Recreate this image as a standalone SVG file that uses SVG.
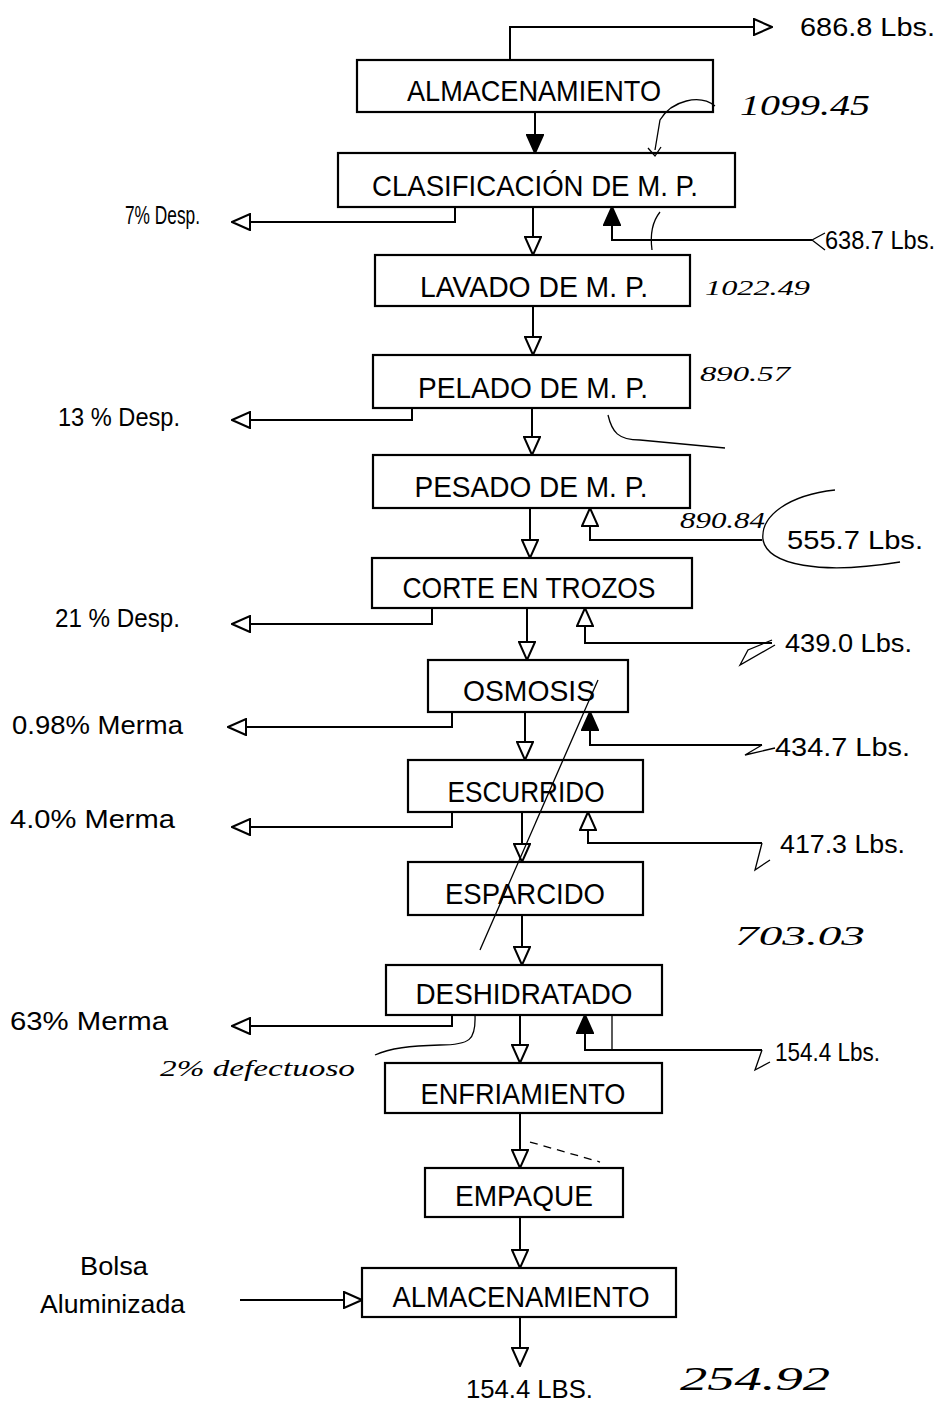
<svg xmlns="http://www.w3.org/2000/svg" width="944" height="1408" viewBox="0 0 944 1408">
<style>
.box{fill:#fff;stroke:#000;stroke-width:2.2}
.lbl{font-family:"Liberation Sans",Arial,sans-serif;font-size:30px;fill:#000;text-anchor:middle}
.side{font-family:"Liberation Sans",Arial,sans-serif;font-size:25px;fill:#000}
.hand{font-family:"Liberation Serif",serif;font-style:italic;fill:#000}
.ln{fill:none;stroke:#000;stroke-width:2}
.hl{fill:none;stroke:#000;stroke-width:1.3}
</style>
<defs>
<marker id="ah" viewBox="0 0 20 18" refX="19" refY="9" markerWidth="20" markerHeight="18" markerUnits="userSpaceOnUse" orient="auto">
<path d="M1,1 L19,9 L1,17 Z" fill="#fff" stroke="#000" stroke-width="2"/>
</marker>
<marker id="af" viewBox="0 0 20 18" refX="19" refY="9" markerWidth="20" markerHeight="18" markerUnits="userSpaceOnUse" orient="auto">
<path d="M1,1 L19,9 L1,17 Z" fill="#000" stroke="#000" stroke-width="2"/>
</marker>
</defs>
<rect width="944" height="1408" fill="#fff"/>

<g id="connectors">
<line class="ln" x1="535" y1="112" x2="535" y2="153" marker-end="url(#af)"/>
<line class="ln" x1="533" y1="207" x2="533" y2="255" marker-end="url(#ah)"/>
<line class="ln" x1="533" y1="306" x2="533" y2="355" marker-end="url(#ah)"/>
<line class="ln" x1="532" y1="408" x2="532" y2="455" marker-end="url(#ah)"/>
<line class="ln" x1="530" y1="508" x2="530" y2="558" marker-end="url(#ah)"/>
<line class="ln" x1="527" y1="608" x2="527" y2="660" marker-end="url(#ah)"/>
<line class="ln" x1="525" y1="712" x2="525" y2="760" marker-end="url(#ah)"/>
<line class="ln" x1="522" y1="812" x2="522" y2="862" marker-end="url(#ah)"/>
<line class="ln" x1="522" y1="915" x2="522" y2="965" marker-end="url(#ah)"/>
<line class="ln" x1="520" y1="1015" x2="520" y2="1063" marker-end="url(#ah)"/>
<line class="ln" x1="520" y1="1113" x2="520" y2="1168" marker-end="url(#ah)"/>
<line class="ln" x1="520" y1="1217" x2="520" y2="1268" marker-end="url(#ah)"/>
<line class="ln" x1="520" y1="1317" x2="520" y2="1366" marker-end="url(#ah)"/>
<polyline class="ln" points="510,60 510,27 772,27" marker-end="url(#ah)"/>
<polyline class="ln" points="455,207 455,222 232,222" marker-end="url(#ah)"/>
<polyline class="ln" points="412,408 412,420 232,420" marker-end="url(#ah)"/>
<polyline class="ln" points="432,608 432,624 232,624" marker-end="url(#ah)"/>
<polyline class="ln" points="452,712 452,727 228,727" marker-end="url(#ah)"/>
<polyline class="ln" points="452,812 452,827 232,827" marker-end="url(#ah)"/>
<polyline class="ln" points="452,1015 452,1026 232,1026" marker-end="url(#ah)"/>
<polyline class="ln" points="812,240 612,240 612,207" marker-end="url(#af)"/>
<polyline class="ln" points="762,540 590,540 590,508" marker-end="url(#ah)"/>
<polyline class="ln" points="772,643 585,643 585,608" marker-end="url(#ah)"/>
<polyline class="ln" points="762,745 590,745 590,712" marker-end="url(#af)"/>
<polyline class="ln" points="762,843 588,843 588,812" marker-end="url(#ah)"/>
<polyline class="ln" points="762,1050 585,1050 585,1015" marker-end="url(#af)"/>
<line class="ln" x1="240" y1="1300" x2="362" y2="1300" marker-end="url(#ah)"/>
</g>

<g id="n1"><rect class="box" x="357" y="60" width="356" height="52"/><text class="lbl" x="534" y="101" textLength="254" lengthAdjust="spacingAndGlyphs">ALMACENAMIENTO</text></g>
<g id="n2"><rect class="box" x="338" y="153" width="397" height="54"/><text class="lbl" x="535" y="196" textLength="326" lengthAdjust="spacingAndGlyphs">CLASIFICACIÓN DE M. P.</text></g>
<g id="n3"><rect class="box" x="375" y="255" width="315" height="51"/><text class="lbl" x="534" y="297" textLength="228" lengthAdjust="spacingAndGlyphs">LAVADO DE M. P.</text></g>
<g id="n4"><rect class="box" x="373" y="355" width="317" height="53"/><text class="lbl" x="533" y="398" textLength="230" lengthAdjust="spacingAndGlyphs">PELADO DE M. P.</text></g>
<g id="n5"><rect class="box" x="373" y="455" width="317" height="53"/><text class="lbl" x="531" y="497" textLength="233" lengthAdjust="spacingAndGlyphs">PESADO DE M. P.</text></g>
<g id="n6"><rect class="box" x="372" y="558" width="320" height="50"/><text class="lbl" x="529" y="598" textLength="253" lengthAdjust="spacingAndGlyphs">CORTE EN TROZOS</text></g>
<g id="n7"><rect class="box" x="428" y="660" width="200" height="52"/><text class="lbl" x="529" y="701" textLength="132" lengthAdjust="spacingAndGlyphs">OSMOSIS</text></g>
<g id="n8"><rect class="box" x="408" y="760" width="235" height="52"/><text class="lbl" x="526" y="802" textLength="157" lengthAdjust="spacingAndGlyphs">ESCURRIDO</text></g>
<g id="n9"><rect class="box" x="408" y="862" width="235" height="53"/><text class="lbl" x="525" y="904" textLength="160" lengthAdjust="spacingAndGlyphs">ESPARCIDO</text></g>
<g id="n10"><rect class="box" x="386" y="965" width="276" height="50"/><text class="lbl" x="524" y="1004" textLength="217" lengthAdjust="spacingAndGlyphs">DESHIDRATADO</text></g>
<g id="n11"><rect class="box" x="385" y="1063" width="277" height="50"/><text class="lbl" x="523" y="1104" textLength="205" lengthAdjust="spacingAndGlyphs">ENFRIAMIENTO</text></g>
<g id="n12"><rect class="box" x="425" y="1168" width="198" height="49"/><text class="lbl" x="524" y="1206" textLength="138" lengthAdjust="spacingAndGlyphs">EMPAQUE</text></g>
<g id="n13"><rect class="box" x="362" y="1268" width="314" height="49"/><text class="lbl" x="521" y="1307" textLength="257" lengthAdjust="spacingAndGlyphs">ALMACENAMIENTO</text></g>

<g id="labels">
<text class="side" x="800" y="36" textLength="135" lengthAdjust="spacingAndGlyphs">686.8 Lbs.</text>
<text class="side" x="125" y="224" textLength="75" lengthAdjust="spacingAndGlyphs">7% Desp.</text>
<text class="side" x="825" y="249" textLength="110" lengthAdjust="spacingAndGlyphs">638.7 Lbs.</text>
<text class="side" x="58" y="426" textLength="122" lengthAdjust="spacingAndGlyphs">13 % Desp.</text>
<text class="side" x="787" y="549" textLength="136" lengthAdjust="spacingAndGlyphs">555.7 Lbs.</text>
<text class="side" x="55" y="627" textLength="125" lengthAdjust="spacingAndGlyphs">21 % Desp.</text>
<text class="side" x="785" y="652" textLength="127" lengthAdjust="spacingAndGlyphs">439.0 Lbs.</text>
<text class="side" x="12" y="734" textLength="171" lengthAdjust="spacingAndGlyphs">0.98% Merma</text>
<text class="side" x="775" y="756" textLength="135" lengthAdjust="spacingAndGlyphs">434.7 Lbs.</text>
<text class="side" x="10" y="828" textLength="165" lengthAdjust="spacingAndGlyphs">4.0% Merma</text>
<text class="side" x="780" y="853" textLength="125" lengthAdjust="spacingAndGlyphs">417.3 Lbs.</text>
<text class="side" x="10" y="1030" textLength="158" lengthAdjust="spacingAndGlyphs">63% Merma</text>
<text class="side" x="775" y="1061" textLength="105" lengthAdjust="spacingAndGlyphs">154.4 Lbs.</text>
<text class="side" x="80" y="1275" textLength="68" lengthAdjust="spacingAndGlyphs">Bolsa</text>
<text class="side" x="40" y="1313" textLength="145" lengthAdjust="spacingAndGlyphs">Aluminizada</text>
<text class="side" x="466" y="1398" textLength="127" lengthAdjust="spacingAndGlyphs">154.4 LBS.</text>
</g>

<g id="handwritten">
<text class="hand" x="740" y="115" font-size="30" textLength="130" lengthAdjust="spacingAndGlyphs">1099.45</text>
<text class="hand" x="705" y="295" font-size="22" textLength="105" lengthAdjust="spacingAndGlyphs">1022.49</text>
<text class="hand" x="700" y="381" font-size="22" textLength="90" lengthAdjust="spacingAndGlyphs">890.57</text>
<text class="hand" x="680" y="528" font-size="24" textLength="85" lengthAdjust="spacingAndGlyphs">890.84</text>
<text class="hand" x="735" y="945" font-size="28" textLength="130" lengthAdjust="spacingAndGlyphs">703.03</text>
<text class="hand" x="160" y="1076" font-size="24" textLength="195" lengthAdjust="spacingAndGlyphs">2% defectuoso</text>
<text class="hand" x="680" y="1390" font-size="34" textLength="150" lengthAdjust="spacingAndGlyphs">254.92</text>
<path class="hl" d="M715,106 C700,94 672,100 660,120 L655,150"/>
<path class="hl" d="M648,148 L655,156 L661,147"/>
<path class="hl" d="M660,212 C652,222 650,235 652,250"/>
<path class="hl" d="M608,415 C612,432 618,440 640,440 L725,448"/>
<path class="hl" d="M835,490 C790,495 760,515 763,540 C768,565 820,575 900,562"/>
<path class="hl" d="M598,680 L480,950"/>
<path class="hl" d="M475,1015 C476,1040 470,1045 440,1045 C410,1046 390,1048 375,1055"/>
<path class="hl" d="M612,1015 L612,1050"/>
<path class="hl" d="M530,1142 L600,1162" stroke-dasharray="8,6"/>
<path class="hl" d="M772,640 L748,650 L740,665 L775,645"/>
<path class="hl" d="M762,745 L745,755 L775,748"/>
<path class="hl" d="M762,843 L755,870 L770,860"/>
<path class="hl" d="M762,1050 L755,1070 L770,1062"/>
<path class="hl" d="M812,240 L825,233 M812,240 L825,250"/>
</g>
</svg>
